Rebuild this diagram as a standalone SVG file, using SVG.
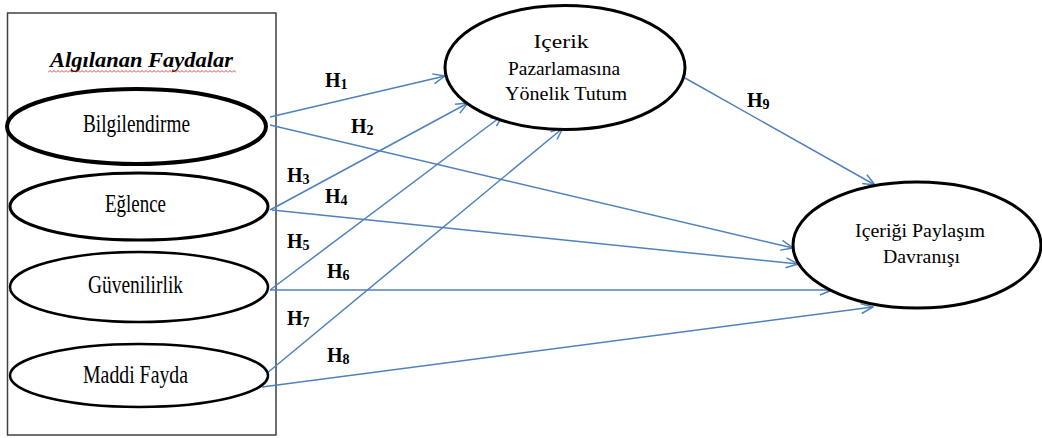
<svg xmlns="http://www.w3.org/2000/svg" width="1042" height="438" viewBox="0 0 1042 438">
  <style>
    .node { fill: #ffffff; stroke: #000000; }
    .lbl { font-family: "Liberation Serif", "Times New Roman", serif; font-size: 19px; fill: #000000; text-anchor: middle; }
    .hyp { font-family: "Liberation Serif", "Times New Roman", serif; font-size: 20px; font-weight: bold; fill: #000000; }
    .hyp tspan { font-size: 14px; }
    .link { stroke: #4F81BD; stroke-width: 1.5; fill: none; marker-end: url(#arrow); }
  </style>
  <defs>
    <marker id="arrow" viewBox="0 0 14 12" refX="13" refY="6" markerWidth="14" markerHeight="12" markerUnits="userSpaceOnUse" orient="auto">
      <path d="M1,1 L13,6 L1,11" fill="none" stroke="#4F81BD" stroke-width="1.5"/>
    </marker>
    <pattern id="squiggle" patternUnits="userSpaceOnUse" x="48" y="70" width="4" height="3">
      <path d="M0,2.5 L2,0.5 L4,2.5" fill="none" stroke="#e03030" stroke-width="0.9"/>
    </pattern>
  </defs>
  <rect width="1042" height="438" fill="#ffffff"/>

  <!-- frame grouping the perceived benefits -->
  <g id="benefits-frame">
    <rect x="7.5" y="13" width="268.5" height="422" fill="none" stroke="#404040" stroke-width="1.5"/>
    <text x="141.5" y="67" textLength="183" lengthAdjust="spacingAndGlyphs" style="font-family: 'Liberation Serif', 'Times New Roman', serif; font-size: 20px; font-weight: bold; font-style: italic; text-anchor: middle;">Algılanan Faydalar</text>
    <rect x="48" y="70" width="188" height="3" fill="url(#squiggle)"/>
  </g>

  <!-- hypothesis paths -->
  <g id="connectors">
    <line class="link" x1="270" y1="117" x2="445" y2="76"/>
    <line class="link" x1="270" y1="125" x2="793" y2="248"/>
    <line class="link" x1="270" y1="210" x2="468" y2="103"/>
    <line class="link" x1="272" y1="210" x2="798" y2="264"/>
    <line class="link" x1="270" y1="290" x2="503" y2="115"/>
    <line class="link" x1="270" y1="290" x2="832" y2="290"/>
    <line class="link" x1="266" y1="374" x2="563" y2="128"/>
    <line class="link" x1="262" y1="387" x2="873" y2="307"/>
    <line class="link" x1="685" y1="78" x2="875" y2="185"/>
  </g>

  <!-- hypothesis labels -->
  <g id="labels">
    <text class="hyp" x="325" y="87">H<tspan dy="2">1</tspan></text>
    <text class="hyp" x="351" y="133">H<tspan dy="2">2</tspan></text>
    <text class="hyp" x="287" y="182">H<tspan dy="2">3</tspan></text>
    <text class="hyp" x="325" y="203">H<tspan dy="2">4</tspan></text>
    <text class="hyp" x="287" y="248">H<tspan dy="2">5</tspan></text>
    <text class="hyp" x="327" y="278">H<tspan dy="2">6</tspan></text>
    <text class="hyp" x="287" y="325">H<tspan dy="2">7</tspan></text>
    <text class="hyp" x="327" y="362">H<tspan dy="2">8</tspan></text>
    <text class="hyp" x="747" y="107">H<tspan dy="2">9</tspan></text>
  </g>

  <g id="bilgilendirme">
    <ellipse class="node" cx="136.5" cy="126.5" rx="129.5" ry="37.5" stroke-width="4"/>
    <text class="lbl" transform="translate(136.5,131.5) scale(1,1.28)" textLength="107" lengthAdjust="spacingAndGlyphs">Bilgilendirme</text>
  </g>

  <g id="eglence">
    <ellipse class="node" cx="139" cy="206.5" rx="129" ry="33.5" stroke-width="3"/>
    <text class="lbl" transform="translate(135.5,211.5) scale(1,1.28)" textLength="61" lengthAdjust="spacingAndGlyphs">Eğlence</text>
  </g>

  <g id="guvenilirlik">
    <ellipse class="node" cx="139" cy="287" rx="129" ry="35" stroke-width="2.5"/>
    <text class="lbl" transform="translate(135.5,293) scale(1,1.28)" textLength="95" lengthAdjust="spacingAndGlyphs">Güvenilirlik</text>
  </g>

  <g id="maddi-fayda">
    <ellipse class="node" cx="139" cy="375.5" rx="129" ry="31.5" stroke-width="2.5"/>
    <text class="lbl" transform="translate(135.5,383) scale(1,1.28)" textLength="105" lengthAdjust="spacingAndGlyphs">Maddi Fayda</text>
  </g>

  <g id="tutum">
    <ellipse class="node" cx="565" cy="67.5" rx="120" ry="62" stroke-width="3"/>
    <text class="lbl" x="561" y="48" textLength="55" lengthAdjust="spacingAndGlyphs">Içerik</text>
    <text class="lbl" x="564" y="75" textLength="112" lengthAdjust="spacingAndGlyphs">Pazarlamasına</text>
    <text class="lbl" x="566" y="100" textLength="122" lengthAdjust="spacingAndGlyphs">Yönelik Tutum</text>
  </g>

  <g id="paylasim">
    <ellipse class="node" cx="917" cy="245" rx="124" ry="63" stroke-width="3"/>
    <text class="lbl" x="920" y="237" textLength="130" lengthAdjust="spacingAndGlyphs">Içeriği Paylaşım</text>
    <text class="lbl" x="921.5" y="263" textLength="77" lengthAdjust="spacingAndGlyphs">Davranışı</text>
  </g>
</svg>
